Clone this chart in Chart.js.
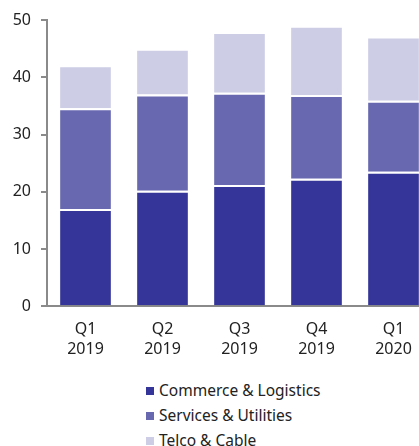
<!DOCTYPE html>
<html>
<head>
<meta charset="utf-8">
<script src="https://cdn.jsdelivr.net/npm/chart.js@4/dist/chart.umd.min.js"></script>
<style>
  html, body { margin: 0; padding: 0; background: #fff; overflow: hidden; }
  #wrap { position: relative; width: 432px; height: 373px; }
  #legend { position: absolute; left: 146px; top: 380px; font-family: "Noto Sans", sans-serif; font-size: 15.5px; color: #222; }
  .item { height: 25px; line-height: 20px; white-space: nowrap; }
  .box { display: inline-block; width: 8px; height: 8px; margin-right: 5px; vertical-align: 1px; }
</style>
</head>
<body>
<div id="wrap"><canvas id="myChart"></canvas></div>
<div id="legend"></div>
<script>
var quarters = [["Q1", "2019"], ["Q2", "2019"], ["Q3", "2019"], ["Q4", "2019"], ["Q1", "2020"]];
var seriesNames = ["Commerce & Logistics", "Services & Utilities", "Telco & Cable"];
var commerceLogistics = [17.0, 20.2, 21.2, 22.3, 23.5];
var servicesUtilities = [17.6, 16.8, 16.1, 14.6, 12.4];
var telcoCable = [7.5, 8.0, 10.6, 12.1, 11.2];
var colors = ["#343499", "#6868b0", "#cdcde6"];

function initialize() {
    generateChart();
    generateLegend();
}

function generateChart() {
    var values = [commerceLogistics, servicesUtilities, telcoCable];
    var datasets = seriesNames.map(function (name, i) {
        return {
            label: name,
            data: values[i],
            backgroundColor: colors[i],
            borderColor: '#ffffff',
            borderWidth: { top: 2, left: 0, right: 0, bottom: 0 },
            borderSkipped: false,
            barPercentage: 0.66,
            categoryPercentage: 1
        };
    });

    var ctx = document.getElementById('myChart').getContext('2d');
    new Chart(ctx, {
        type: 'bar',
        data: { labels: quarters, datasets: datasets },
        options: {
            responsive: true,
            maintainAspectRatio: false,
            animation: false,
            layout: { padding: { top: 20, left: 0, right: 0, bottom: 0 } },
            plugins: { legend: { display: false }, tooltip: { enabled: false } },
            scales: {
                x: {
                    stacked: true,
                    grid: { display: false, drawTicks: false },
                    border: { display: true, color: '#8a8a8a', width: 2 },
                    ticks: { color: '#222', font: { family: 'Noto Sans', size: 16, lineHeight: 1.27 }, padding: 13, maxRotation: 0 }
                },
                y: {
                    stacked: true,
                    min: 0,
                    max: 50,
                    afterFit: function (scale) { scale.width = 47; },
                    grid: { drawOnChartArea: false, drawTicks: true, tickLength: 6, color: '#8a8a8a', lineWidth: 2 },
                    border: { display: true, color: '#8a8a8a', width: 2 },
                    ticks: { stepSize: 10, color: '#222', font: { family: 'Noto Sans', size: 16 }, padding: 10 }
                }
            }
        }
    });
}

function generateLegend() {
    var legend = document.getElementById('legend');
    seriesNames.forEach(function (name, i) {
        var row = document.createElement('div');
        row.className = 'item';
        var box = document.createElement('span');
        box.className = 'box';
        box.style.background = colors[i];
        row.appendChild(box);
        row.appendChild(document.createTextNode(name));
        legend.appendChild(row);
    });
}

document.addEventListener('DOMContentLoaded', initialize);
</script>
</body>
</html>
